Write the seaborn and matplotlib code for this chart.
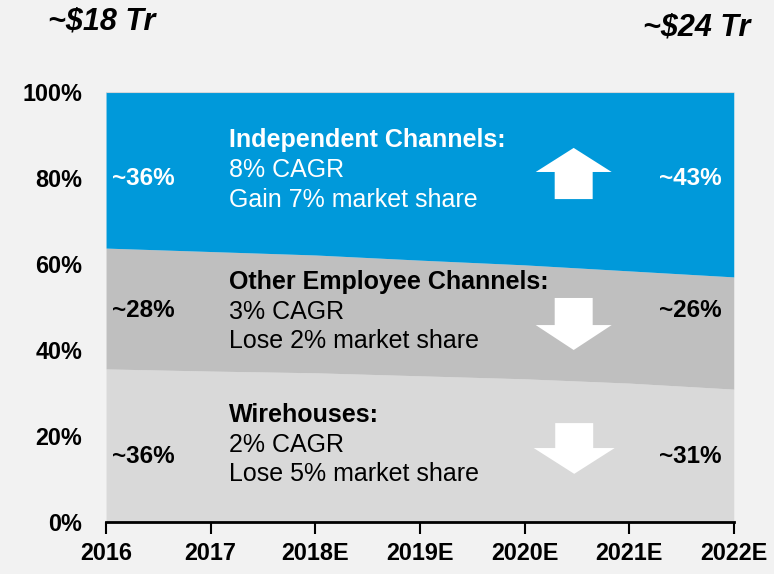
import numpy as np
import pandas as pd
import matplotlib
matplotlib.use("Agg")
import matplotlib.pyplot as plt
import seaborn as sns
from matplotlib.patches import FancyArrow

# Market share by channel (%)
years = ["2016", "2017", "2018E", "2019E", "2020E", "2021E", "2022E"]
wirehouses = [35.6, 35.1, 34.7, 34.0, 33.3, 32.3, 30.9]
other_employee = [28.1, 27.8, 27.4, 26.9, 26.5, 26.1, 26.1]
independent = [36.3, 37.1, 37.9, 39.1, 40.2, 41.6, 43.0]

start_labels = ["~36%", "~28%", "~36%"]
end_labels = ["~31%", "~26%", "~43%"]
totals = ["~$18 Tr", "~$24 Tr"]

blue = "#0099da"
dark_grey = "#bfbfbf"
light_grey = "#d9d9d9"
bg = "#f2f2f2"

sns.set_theme(style="white")
plt.rcParams["font.family"] = ["Liberation Sans", "DejaVu Sans"]
plt.rcParams["text.color"] = "black"

df = pd.DataFrame({"Year": years, "Wirehouses": wirehouses,
                   "Other": other_employee, "Independent": independent})
x = np.arange(len(df))

fig = plt.figure(figsize=(7.74, 5.74), dpi=100, facecolor=bg)
ax = fig.add_axes([0.137, 0.0906, 0.811, 0.7491])
ax.set_facecolor(bg)

ax.stackplot(x, df["Wirehouses"], df["Other"], df["Independent"],
             colors=[light_grey, dark_grey, blue], linewidth=0)
ax.axhline(100, color="#d3d7da", lw=1.5, zorder=3)

ax.set_xlim(0, 6)
ax.set_ylim(0, 100)
ax.set_xticks(x)
ax.set_xticklabels(df["Year"])
ax.set_yticks([0, 20, 40, 60, 80, 100])
ax.set_yticklabels([f"{v}%" for v in [0, 20, 40, 60, 80, 100]])
for lbl in ax.get_xticklabels() + ax.get_yticklabels():
    lbl.set_fontweight("bold")
    lbl.set_fontsize(16.8)
    lbl.set_color("black")
ax.tick_params(axis="x", direction="out", length=8.5, width=1.5, color="black", pad=6, bottom=True)
ax.tick_params(axis="y", length=0, pad=17)

sns.despine(ax=ax, left=True, top=True, right=True)
ax.spines["bottom"].set_color("black")
ax.spines["bottom"].set_linewidth(2)
ax.spines["bottom"].set_zorder(4)

# Channel descriptions
blocks = [
    (88.8, ["Independent Channels:", "8% CAGR", "Gain 7% market share"], "white"),
    (55.8, ["Other Employee Channels:", "3% CAGR", "Lose 2% market share"], "black"),
    (24.9, ["Wirehouses:", "2% CAGR", "Lose 5% market share"], "black"),
]
for ytop, lines, col in blocks:
    for i, line in enumerate(lines):
        ax.text(1.175, ytop - i * 6.9, line, color=col, fontsize=18,
                fontweight="bold" if i == 0 else "normal", va="center", ha="left")

# Start / end share labels
ys = [15.3, 49.1, 80.0]
cols = ["black", "black", "white"]
for y, s, e, c in zip(ys, start_labels, end_labels, cols):
    ax.text(0.057, y, s, color=c, fontsize=17.5, fontweight="bold", va="center", ha="left")
    ax.text(5.885, y, e, color=c, fontsize=17.5, fontweight="bold", va="center", ha="right")

# Trend arrows
ax.add_patch(FancyArrow(4.47, 75.1, 0, 11.9, width=0.363, head_width=0.726,
                        head_length=5.6, length_includes_head=True,
                        color="white", lw=0, zorder=5))
ax.add_patch(FancyArrow(4.47, 52.1, 0, -12.1, width=0.363, head_width=0.726,
                        head_length=5.8, length_includes_head=True,
                        color="white", lw=0, zorder=5))
ax.add_patch(FancyArrow(4.475, 23.0, 0, -11.8, width=0.363, head_width=0.774,
                        head_length=6.0, length_includes_head=True,
                        color="white", lw=0, zorder=5))

# Total market size
fig.text(48 / 774, 1 - 22 / 574, totals[0], fontsize=22, fontweight="bold",
         fontstyle="italic", va="center", ha="left", color="black")
fig.text(750 / 774, 1 - 28 / 574, totals[1], fontsize=22, fontweight="bold",
         fontstyle="italic", va="center", ha="right", color="black")

fig.savefig("out.png", dpi=100, facecolor=bg)
